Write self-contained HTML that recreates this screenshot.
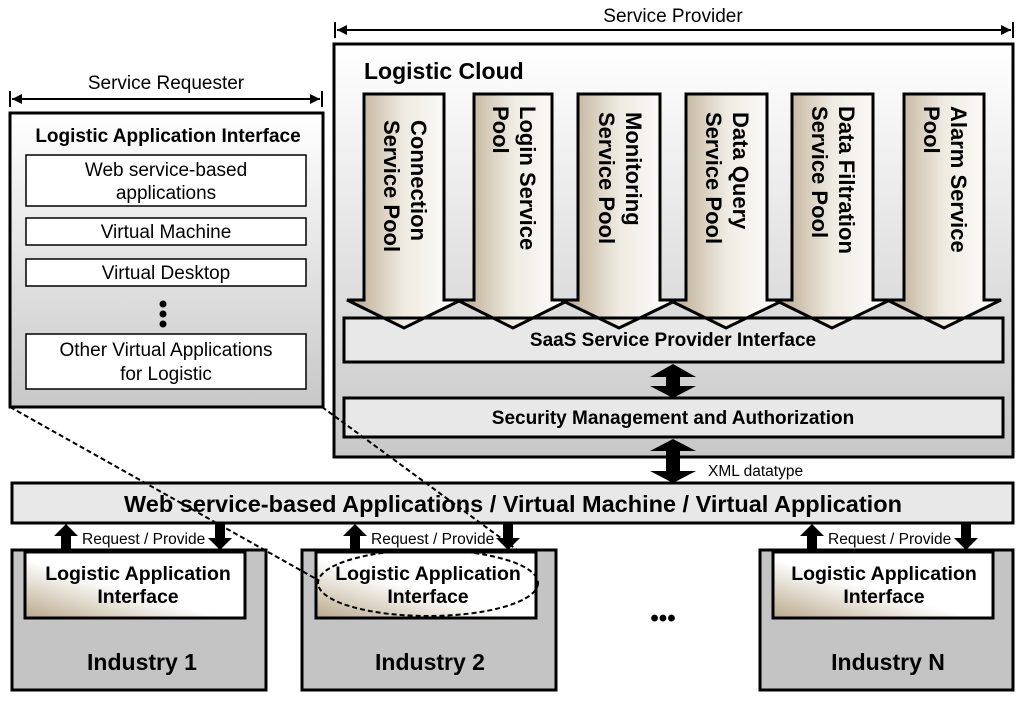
<!DOCTYPE html>
<html><head><meta charset="utf-8"><style>body{margin:0;background:#fff}svg{display:block}</style></head><body>
<svg width="1024" height="701" viewBox="0 0 1024 701" xmlns="http://www.w3.org/2000/svg" font-family="Liberation Sans, Arial, sans-serif">
<defs>
<linearGradient id="gbox" x1="0" y1="0" x2="0" y2="1"><stop offset="0" stop-color="#fff"/><stop offset="1" stop-color="#c8c8c8"/></linearGradient>
<linearGradient id="garr" x1="0" y1="0" x2="1" y2="0"><stop offset="0" stop-color="#b7a68a"/><stop offset="0.5" stop-color="#efebe2"/><stop offset="1" stop-color="#fff"/></linearGradient>
<linearGradient id="gin" x1="0" y1="1" x2="1" y2="0"><stop offset="0" stop-color="#b9a88b"/><stop offset="0.45" stop-color="#fff"/><stop offset="1" stop-color="#fff"/></linearGradient>
</defs>
<!-- brackets -->
<text x="673" y="22" font-size="19" text-anchor="middle">Service Provider</text>
<line x1="335" y1="22" x2="335" y2="38" stroke="#000" stroke-width="2"/><line x1="1013" y1="22" x2="1013" y2="38" stroke="#000" stroke-width="2"/>
<line x1="337" y1="30" x2="1011" y2="30" stroke="#000" stroke-width="2"/>
<path d="M337,30 l10,-5 v10z M1011,30 l-10,-5 v10z" fill="#000"/>
<text x="166" y="89" font-size="19" text-anchor="middle">Service Requester</text>
<line x1="10" y1="91" x2="10" y2="107" stroke="#000" stroke-width="2"/><line x1="322" y1="91" x2="322" y2="107" stroke="#000" stroke-width="2"/>
<line x1="12" y1="99" x2="320" y2="99" stroke="#000" stroke-width="2"/>
<path d="M12,99 l10,-5 v10z M320,99 l-10,-5 v10z" fill="#000"/>
<!-- left box -->
<rect x="10" y="113" width="313" height="294" fill="url(#gbox)" stroke="#000" stroke-width="3"/>
<text x="168" y="142" font-size="19" font-weight="bold" text-anchor="middle">Logistic Application Interface</text>
<g fill="#fff" stroke="#000" stroke-width="1.5">
<rect x="26" y="155" width="280" height="51"/><rect x="26" y="218" width="280" height="27"/><rect x="26" y="259" width="280" height="27"/><rect x="26" y="334" width="280" height="55"/></g>
<g font-size="19" text-anchor="middle">
<text x="166" y="176">Web service-based</text><text x="166" y="199">applications</text>
<text x="166" y="238">Virtual Machine</text><text x="166" y="279">Virtual Desktop</text>
<text x="166" y="356">Other Virtual Applications</text><text x="166" y="380">for Logistic</text></g>
<circle cx="163" cy="304" r="3.5"/><circle cx="163" cy="314" r="3.5"/><circle cx="163" cy="324" r="3.5"/>
<!-- cloud -->
<rect x="334" y="44" width="679" height="413" fill="url(#gbox)" stroke="#000" stroke-width="3"/>
<text x="364" y="79" font-size="23" font-weight="bold">Logistic Cloud</text>
<rect x="344" y="318" width="659" height="44" fill="#e8e8e8" stroke="#000" stroke-width="3"/>
<g fill="url(#garr)" stroke="#000" stroke-width="3" stroke-linejoin="miter">
<path d="M364,94 H444 V300 H461 L404,328 L347,300 H364 Z"/>
<path d="M474,94 H552 V300 H569 L513,328 L457,300 H474 Z"/>
<path d="M578,94 H660 V300 H677 L619,328 L561,300 H578 Z"/>
<path d="M686,94 H767 V300 H784 L726,328 L669,300 H686 Z"/>
<path d="M792,94 H873 V300 H890 L832,328 L775,300 H792 Z"/>
<path d="M904,94 H984 V300 H1001 L944,328 L887,300 H904 Z"/>
</g>
<g font-size="22" font-weight="bold">
<text transform="translate(404,120) rotate(90)"><tspan x="0" y="-7">Connection</tspan><tspan x="0" y="20">Service Pool</tspan></text>
<text transform="translate(513,106) rotate(90)"><tspan x="0" y="-7">Login Service</tspan><tspan x="0" y="20">Pool</tspan></text>
<text transform="translate(619,112) rotate(90)"><tspan x="0" y="-7">Monitoring</tspan><tspan x="0" y="20">Service Pool</tspan></text>
<text transform="translate(726,112) rotate(90)"><tspan x="0" y="-7">Data Query</tspan><tspan x="0" y="20">Service Pool</tspan></text>
<text transform="translate(832,106) rotate(90)"><tspan x="0" y="-7">Data Filtration</tspan><tspan x="0" y="20">Service Pool</tspan></text>
<text transform="translate(944,106) rotate(90)"><tspan x="0" y="-7">Alarm Service</tspan><tspan x="0" y="20">Pool</tspan></text>
</g>
<rect x="344" y="318" width="659" height="44" fill="none" stroke="#000" stroke-width="3"/>
<rect x="346" y="330" width="655" height="30" fill="#e8e8e8"/>
<text x="673" y="346" font-size="19" font-weight="bold" text-anchor="middle">SaaS Service Provider Interface</text>
<rect x="344" y="398" width="659" height="39" fill="#e8e8e8" stroke="#000" stroke-width="3"/>
<text x="673" y="424" font-size="19" font-weight="bold" text-anchor="middle">Security Management and Authorization</text>
<!-- double arrows -->
<path d="M673,364 L696,377 H680 V386 H696 L673,398 L650,386 H666 V377 H650 Z" fill="#000"/>
<path d="M673,439 L696,451 H680 V471 H696 L673,483 L650,471 H666 V451 H650 Z" fill="#000"/>
<text x="708" y="476" font-size="15.5">XML datatype</text>
<!-- web bar -->
<rect x="12" y="483" width="1001" height="40" fill="#e8e8e8" stroke="#000" stroke-width="3"/>
<text x="513" y="512" font-size="23.5" font-weight="bold" text-anchor="middle">Web service-based Applications / Virtual Machine / Virtual Application</text>
<!-- industries -->
<g stroke="#000" stroke-width="3">
<rect x="12" y="550" width="254" height="140" fill="#c4c4c4"/><rect x="25" y="552" width="220" height="66" fill="url(#gin)"/>
<rect x="302" y="550" width="254" height="140" fill="#c4c4c4"/><rect x="316" y="552" width="220" height="66" fill="url(#gin)"/>
<rect x="760" y="550" width="253" height="140" fill="#c4c4c4"/><rect x="773" y="552" width="220" height="66" fill="url(#gin)"/>
</g>
<g font-size="19.5" font-weight="bold" text-anchor="middle">
<text x="138" y="580">Logistic Application</text><text x="138" y="603">Interface</text>
<text x="428" y="580">Logistic Application</text><text x="428" y="603">Interface</text>
<text x="884" y="580">Logistic Application</text><text x="884" y="603">Interface</text>
</g>
<g font-size="23" font-weight="bold" text-anchor="middle">
<text x="142" y="670">Industry 1</text><text x="430" y="670">Industry 2</text><text x="888" y="670">Industry N</text></g>
<text x="663" y="626" font-size="24" font-weight="bold" text-anchor="middle">•••</text>
<!-- up/down arrows -->
<g fill="#000">
<path d="M66,524 L78,536 H71 V550 H61 V536 H54 Z"/><path d="M220,550 L232,538 H225 V524 H215 V538 H208 Z"/>
<path d="M355,524 L367,536 H360 V550 H350 V536 H343 Z"/><path d="M508,550 L520,538 H513 V524 H503 V538 H496 Z"/>
<path d="M812,524 L824,536 H817 V550 H807 V536 H800 Z"/><path d="M966,550 L978,538 H971 V524 H961 V538 H954 Z"/>
</g>
<g font-size="15.5">
<text x="82" y="544">Request / Provide</text><text x="371" y="544">Request / Provide</text><text x="828" y="544">Request / Provide</text></g>
<!-- dashed -->
<g fill="none" stroke="#000" stroke-width="2" stroke-dasharray="5,3">
<line x1="10" y1="407" x2="318" y2="580"/>
<line x1="322" y1="407" x2="520" y2="552"/>
<ellipse cx="428" cy="583" rx="110" ry="33"/>
</g>
</svg>
</body></html>
